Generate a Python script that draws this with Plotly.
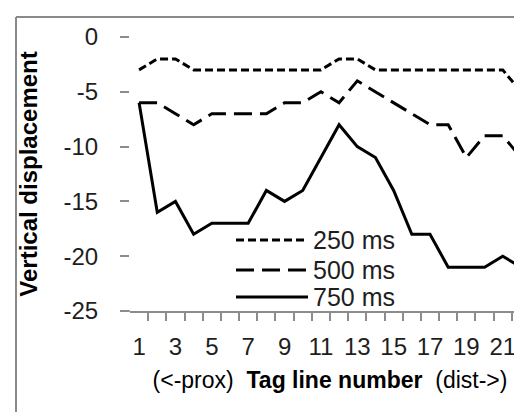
import plotly.graph_objects as go

# ---- data ----
tag_lines = list(range(1, 23))
series_names = ["250 ms", "500 ms", "750 ms"]
disp_250 = [-3, -2, -2, -3, -3, -3, -3, -3, -3, -3, -3, -2, -2, -3, -3, -3, -3, -3, -3, -3, -3, -5]
disp_500 = [-6, -6, -7, -8, -7, -7, -7, -7, -6, -6, -5, -6, -4, -5, -6, -7, -8, -8, -11, -9, -9, -11]
disp_750 = [-6, -16, -15, -18, -17, -17, -17, -14, -15, -14, -11, -8, -10, -11, -14, -18, -18, -21, -21, -21, -20, -21]
x_tick_labels = [1, 3, 5, 7, 9, 11, 13, 15, 17, 19, 21]
y_ticks = [0, -5, -10, -15, -20, -25]

dashes = ["8px,4px", "18px,8px", "solid"]
series = [disp_250, disp_500, disp_750]

FONT = "Liberation Sans, Arial, sans-serif"
AXIS_GREY = "#8c8c8c"
TXT = "#1e1e1e"

fig = go.Figure()
for name, vals, d in zip(series_names, series, dashes):
    fig.add_trace(go.Scatter(
        x=tag_lines, y=vals, mode="lines", name=name, showlegend=False,
        line=dict(color="black", width=3, dash=d),
    ))

W, H = 522, 412
L, R, T, B = 122, 0, 29, 109
pw, ph = W - L - R, H - T - B

def px_x(p):
    return (p - L) / pw

def px_y(p):
    return (H - B - p) / ph

shapes = []
# chart outer border (top & left visible)
shapes.append(dict(type="line", xref="paper", yref="paper", x0=px_x(8), x1=px_x(530), y0=px_y(9), y1=px_y(9),
                   line=dict(color="#8a8a8a", width=2)))
shapes.append(dict(type="line", xref="paper", yref="paper", x0=px_x(8), x1=px_x(8), y0=px_y(9), y1=px_y(420),
                   line=dict(color="#8a8a8a", width=2)))
# x-axis line extension to the left
shapes.append(dict(type="line", xref="paper", yref="paper", x0=px_x(112), x1=0, y0=0, y1=0,
                   line=dict(color=AXIS_GREY, width=1.5)))

# manual legend
legend_rows_px = [232, 262, 289]
annotations = []
for name, d, ry in zip(series_names, dashes, legend_rows_px):
    shapes.append(dict(type="line", xref="paper", yref="paper", x0=px_x(228), x1=px_x(300),
                       y0=px_y(ry), y1=px_y(ry), line=dict(color="black", width=3, dash=d)))
    annotations.append(dict(xref="paper", yref="paper", x=px_x(303), y=px_y(ry), text=name,
                            showarrow=False, xanchor="left", yanchor="middle",
                            font=dict(family=FONT, size=25, color=TXT)))

fig.update_layout(
    width=W, height=H,
    margin=dict(l=L, r=R, t=T, b=B, autoexpand=False),
    paper_bgcolor="white", plot_bgcolor="white",
    font=dict(family=FONT, size=24, color=TXT),
    shapes=shapes, annotations=annotations,
    showlegend=False,
)
fig.update_xaxes(
    range=[0.5, 22.5], showgrid=False, zeroline=False,
    showline=True, linecolor=AXIS_GREY, linewidth=1.5,
    tickmode="array", tickvals=x_tick_labels, ticktext=[str(v) for v in x_tick_labels],
    ticks="outside", ticklen=8, tickcolor="rgba(0,0,0,0)",
    ticklabelstandoff=5,
    minor=dict(tickmode="array", tickvals=[v + 0.5 for v in tag_lines[:-1]], ticks="outside",
               ticklen=8, tickcolor=AXIS_GREY, tickwidth=1.5, showgrid=False),
    tickfont=dict(family=FONT, size=24, color=TXT),
    title=dict(text="(&lt;-prox)\u00a0\u00a0<b>Tag line number</b>\u00a0\u00a0(dist-&gt;)",
               font=dict(family=FONT, size=23, color="black"), standoff=13),
    fixedrange=True,
)
fig.update_yaxes(
    range=[-25, 0], showgrid=False, zeroline=False, showline=False,
    tickmode="array", tickvals=y_ticks, ticktext=[str(v) for v in y_ticks],
    ticks="outside", ticklen=9, tickcolor=AXIS_GREY, tickwidth=1.5,
    ticklabelstandoff=17,
    tickfont=dict(family=FONT, size=24, color=TXT),
    title=dict(text="<b>Vertical displacement</b>", font=dict(family=FONT, size=24, color="black"), standoff=19),
    fixedrange=True,
)

fig.write_html("out.html")
